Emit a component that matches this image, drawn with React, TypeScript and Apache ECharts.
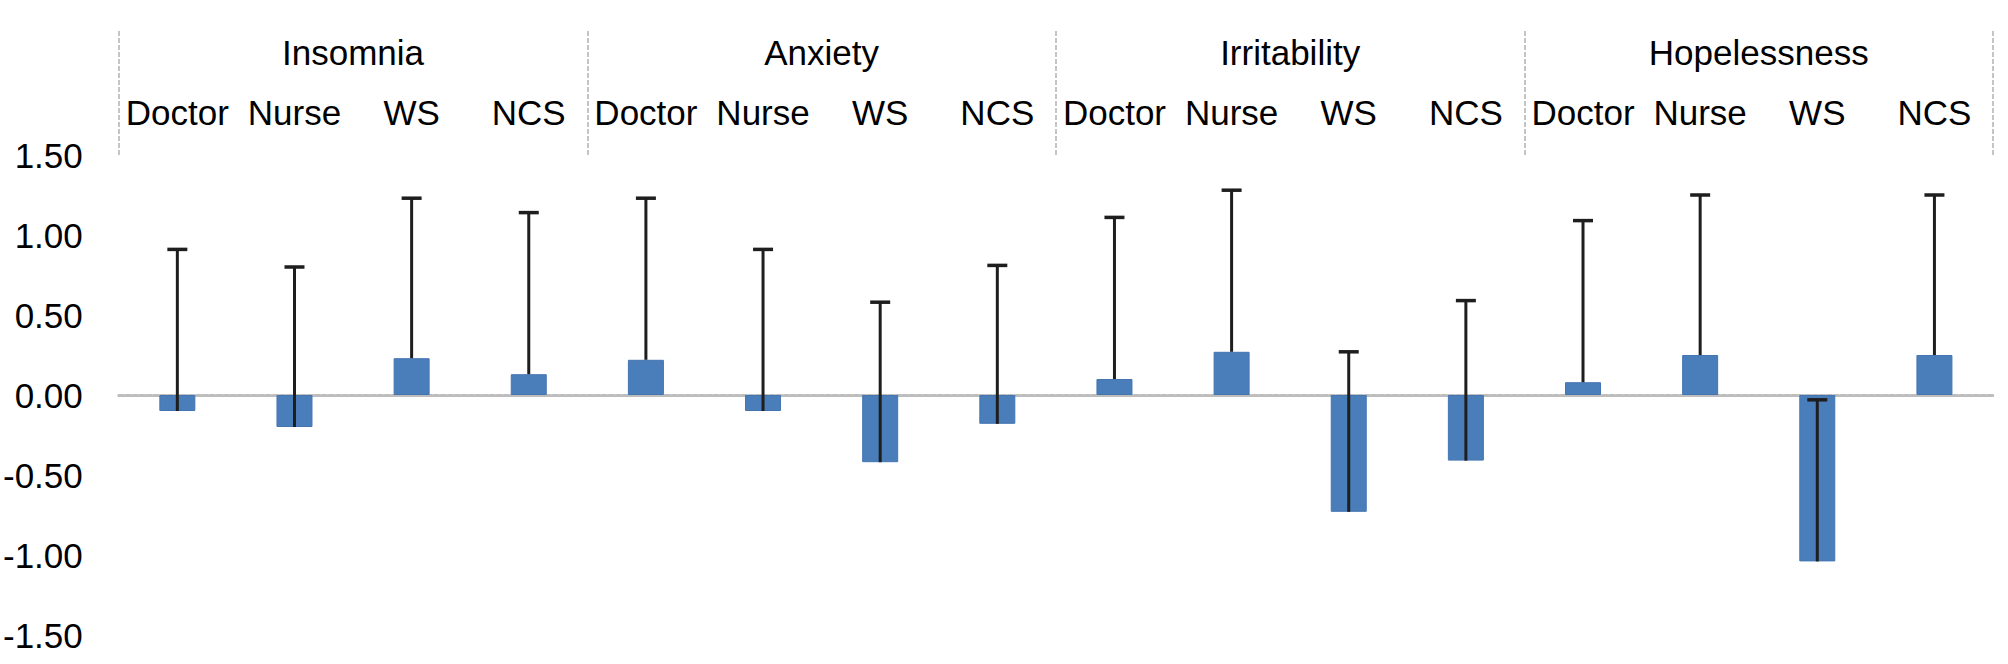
import React, { useEffect, useRef } from "react";
import * as echarts from "echarts";

const groups = ["Insomnia", "Anxiety", "Irritability", "Hopelessness"];
const roles = ["Doctor", "Nurse", "WS", "NCS"];

const insomniaMean = [-0.1, -0.2, 0.23, 0.13];
const anxietyMean = [0.22, -0.1, -0.42, -0.18];
const irritabilityMean = [0.1, 0.27, -0.73, -0.41];
const hopelessnessMean = [0.08, 0.25, -1.04, 0.25];

const insomniaSd = [1.01, 1.0, 1.0, 1.01];
const anxietySd = [1.01, 1.01, 1.0, 0.99];
const irritabilitySd = [1.01, 1.01, 1.0, 1.0];
const hopelessnessSd = [1.01, 1.0, 1.01, 1.0];

const yTicks = [-1.5, -1.0, -0.5, 0, 0.5, 1.0, 1.5];

const FONT = "'Liberation Sans', Arial, sans-serif";

export default function App() {
  const ref = useRef<HTMLDivElement>(null);
  useEffect(() => {
    if (!ref.current) return;
    const chart = echarts.init(ref.current, null, { renderer: "svg" });
    const means = [...insomniaMean, ...anxietyMean, ...irritabilityMean, ...hopelessnessMean];
    const sds = [...insomniaSd, ...anxietySd, ...irritabilitySd, ...hopelessnessSd];
    const cats: string[] = [];
    groups.forEach((g) => roles.forEach((r) => cats.push(g + "|" + r)));
    const errData = means.map((m, i) => [i, m, sds[i]]);

    chart.setOption({
      animation: false,
      backgroundColor: "#ffffff",
      grid: { left: 118, right: 15, top: 155, bottom: 29, containLabel: false },
      xAxis: [
        {
          type: "category",
          data: cats,
          position: "top",
          axisLine: { show: false, onZero: false },
          axisTick: { show: false },
          axisLabel: {
            interval: 0,
            margin: 25,
            fontSize: 35,
            color: "#000",
            fontFamily: FONT,
            formatter: (v: string) => v.split("|")[1],
          },
          splitLine: { show: false },
        },
        {
          type: "category",
          data: groups,
          position: "top",
          axisLine: { show: false, onZero: false },
          axisTick: {
            show: true,
            interval: 0,
            length: 125,
            lineStyle: { color: "#c4c4c4", width: 2, type: [5, 2] },
          },
          axisLabel: {
            interval: 0,
            margin: 85,
            fontSize: 35,
            color: "#000",
            fontFamily: FONT,
          },
          splitLine: { show: false },
        },
        {
          type: "category",
          data: cats,
          position: "bottom",
          axisLine: { show: true, onZero: true, lineStyle: { color: "#bdbdbd", width: 3, type: [5, 2] } },
          axisTick: { show: false },
          axisLabel: { show: false },
          splitLine: { show: false },
        },
      ],
      yAxis: {
        type: "value",
        min: yTicks[0],
        max: yTicks[yTicks.length - 1],
        interval: 0.5,
        axisLine: { show: false },
        axisTick: { show: false },
        splitLine: { show: false },
        axisLabel: {
          margin: 36,
          fontSize: 35,
          color: "#000",
          fontFamily: FONT,
          formatter: (v: number) => v.toFixed(2),
        },
      },
      series: [
        {
          type: "bar",
          xAxisIndex: 0,
          data: means,
          barWidth: 36,
          itemStyle: { color: "#4a7ebb", borderColor: "#4475b0", borderWidth: 1 },
          z: 2,
        },
        {
          type: "custom",
          xAxisIndex: 0,
          data: errData,
          encode: { x: 0, y: 1 },
          z: 3,
          renderItem: (params: any, api: any) => {
            const x = api.value(0);
            const m = api.value(1);
            const s = api.value(2);
            const p0 = api.coord([x, m]);
            const p1 = api.coord([x, m + s]);
            return {
              type: "group",
              children: [
                {
                  type: "line",
                  shape: { x1: p0[0], y1: p0[1], x2: p1[0], y2: p1[1] },
                  style: { stroke: "#1e1e1e", lineWidth: 3 },
                },
                {
                  type: "line",
                  shape: { x1: p1[0] - 10, y1: p1[1], x2: p1[0] + 10, y2: p1[1] },
                  style: { stroke: "#1e1e1e", lineWidth: 3.5 },
                },
              ],
            };
          },
        },
      ],
    });
    return () => chart.dispose();
  }, []);
  return (
    <div
      ref={ref}
      style={{ position: "fixed", left: 0, top: 0, width: 2008, height: 664, background: "#fff" }}
    />
  );
}
